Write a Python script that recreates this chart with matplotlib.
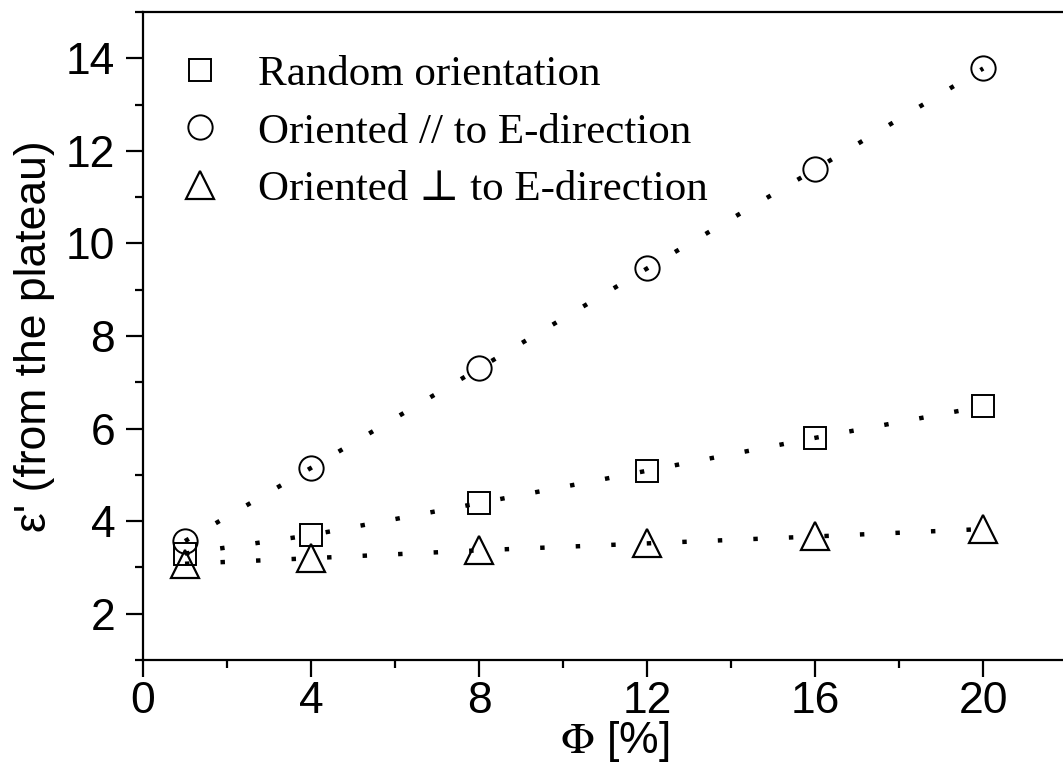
import matplotlib.pyplot as plt
from matplotlib.ticker import MultipleLocator

plt.rcParams["mathtext.fontset"] = "stix"

phi = [1, 4, 8, 12, 16, 20]
eps_random = [3.30, 3.70, 4.39, 5.09, 5.80, 6.48]
eps_parallel = [3.57, 5.15, 7.30, 9.46, 11.60, 13.78]
eps_perp = [3.08, 3.20, 3.37, 3.52, 3.67, 3.83]

labels = ["Random orientation",
          "Oriented // to E-direction",
          "Oriented \u22a5 to E-direction"]

fig = plt.figure(figsize=(10.63, 7.69), dpi=100)
ax = fig.add_axes([0.1345, 0.1417, 0.8655, 0.8427])

dots = (0, (1, 7))
ax.plot(phi, eps_random, color="black", linestyle=dots, linewidth=3.2,
        marker="s", markersize=16, markerfacecolor="none",
        markeredgecolor="black", markeredgewidth=1.4, label=labels[0])
ax.plot(phi, eps_parallel, color="black", linestyle=dots, linewidth=3.2,
        marker="o", markersize=17.5, markerfacecolor="none",
        markeredgecolor="black", markeredgewidth=1.4, label=labels[1])
ax.plot(phi, eps_perp, color="black", linestyle=dots, linewidth=3.2,
        marker="^", markersize=20, markerfacecolor="none",
        markeredgecolor="black", markeredgewidth=1.6, label=labels[2])

ax.set_xlim(0, 21.9)
ax.set_ylim(1, 15)
ax.xaxis.set_major_locator(MultipleLocator(4))
ax.xaxis.set_minor_locator(MultipleLocator(2))
ax.yaxis.set_minor_locator(MultipleLocator(1))
ax.set_yticks([2, 4, 6, 8, 10, 12, 14])

for s in ["left", "bottom", "top"]:
    ax.spines[s].set_linewidth(1.6)
ax.spines["right"].set_visible(False)

ax.tick_params(which="major", direction="out", length=12, width=1.6,
               labelsize=32)
ax.tick_params(which="minor", direction="out", length=6, width=1.6)
ax.tick_params(axis="x", which="major", pad=3)
ax.tick_params(axis="y", which="major", pad=8)
for t in ax.get_xticklabels() + ax.get_yticklabels():
    t.set_fontfamily("Liberation Sans")

ax.set_xlabel(r"$\Phi$ [%]", fontsize=32, family="Liberation Sans",
              labelpad=-2)
ax.xaxis.label.set_x(0.513)
ax.set_ylabel("\u03b5' (from the plateau)", fontsize=32,
              family="Liberation Sans", labelpad=8)

leg = ax.legend(loc="upper left", frameon=False, handlelength=1.0,
                handletextpad=0.85, labelspacing=0.42, borderaxespad=0.0,
                prop={"family": ["Liberation Serif", "DejaVu Serif"],
                      "size": 31},
                bbox_to_anchor=(0.02, 0.96))
for h in leg.legend_handles:
    h.set_linestyle("none")

fig.savefig("out.png", dpi=100)
